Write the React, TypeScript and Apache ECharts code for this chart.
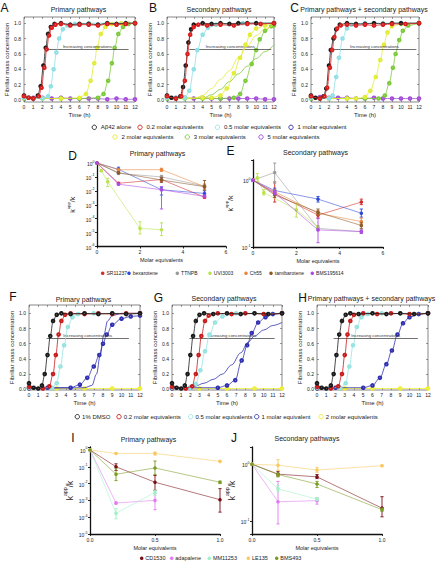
import React, { useEffect, useRef } from "react";
import * as echarts from "echarts";

const FONT = "'Liberation Sans', Arial, Helvetica, sans-serif";
const TXT = "#222";

// ---------- Kinetics panels (A, B, C, F, G, H) ----------
const KIN_Y_TICKS = [0, 0.2, 0.4, 0.6, 0.8, 1.0];
const ARROW_TEXT = "Increasing concentrations";

const ABC_NAMES = ["Aβ42 alone", "0.2 molar equivalents", "0.5 molar equivalents", "1 molar equivalent", "2 molar equivalents", "3 molar equivalents", "5 molar equivalents"];
const ABC_COLORS = ["#1a1a1a", "#d81e1e", "#8fe0e6", "#2b2ba3", "#e2ec34", "#7cc93a", "#a54fd8"];

const FGH_NAMES = ["1% DMSO", "0.2 molar equivalents", "0.5 molar equivalents", "1 molar equivalent", "2 molar equivalents"];
const FGH_COLORS = ["#1a1a1a", "#c81a1a", "#94e4e0", "#3030b0", "#eeee30"];

// A: primary pathways  [time (h), fibrillar mass concentration]
const A_ALONE = [[0, 0.06], [0.5, 0.03], [1, 0.02], [1.5, 0.06], [1.8, 0.18], [2.1, 0.45], [2.35, 0.68], [2.6, 0.86], [2.9, 0.95], [3.3, 0.99], [4, 1.0], [5, 0.98], [6, 0.99], [7, 0.99], [8, 0.98], [9, 1.0], [10, 0.99], [11, 1.0], [12, 1.0]];
const A_02 = [[0, 0.05], [0.5, 0.03], [1, 0.02], [1.6, 0.05], [1.9, 0.16], [2.2, 0.42], [2.45, 0.66], [2.7, 0.84], [3, 0.94], [3.4, 0.98], [4, 0.99], [5, 0.97], [6, 0.98], [7, 0.98], [8, 0.97], [9, 0.99], [10, 0.98], [11, 0.99], [12, 1.0]];
const A_05 = [[0, 0.03], [1, 0.02], [2, 0.02], [2.6, 0.05], [2.9, 0.18], [3.2, 0.4], [3.5, 0.62], [3.8, 0.8], [4.2, 0.92], [4.7, 0.97], [5.5, 0.99], [7, 1.0], [9, 1.0], [11, 1.0], [12, 1.0]];
const A_2 = [[0, 0.03], [2, 0.02], [4, 0.02], [6, 0.03], [6.7, 0.08], [7.2, 0.25], [7.6, 0.48], [7.9, 0.68], [8.3, 0.86], [8.8, 0.95], [9.5, 0.99], [10.5, 1.0], [12, 1.0]];
const A_3 = [[0, 0.02], [2, 0.02], [4, 0.02], [6, 0.02], [8, 0.03], [8.6, 0.08], [9.1, 0.25], [9.5, 0.48], [9.8, 0.68], [10.2, 0.86], [10.7, 0.95], [11.3, 0.99], [12, 1.0]];
const A_5 = [[0, 0.04], [1, 0.03], [2, 0.03], [3, 0.02], [4, 0.03], [5, 0.02], [6, 0.02], [7, 0.02], [8, 0.02], [9, 0.01], [10, 0.02], [11, 0.01], [12, 0.01]];

// B: secondary pathways
const B_ALONE = [[0, 0.06], [0.5, 0.03], [1, 0.02], [1.5, 0.05], [1.8, 0.17], [2.1, 0.45], [2.4, 0.75], [2.7, 0.92], [3, 0.98], [4, 1.0], [5, 0.99], [6, 1.0], [7, 0.99], [8, 1.0], [9, 1.0], [10, 1.0], [12, 1.0]];
const B_02 = [[0, 0.05], [1, 0.02], [1.6, 0.05], [2, 0.25], [2.3, 0.6], [2.6, 0.85], [3, 0.95], [3.5, 0.98], [4.5, 0.97], [6, 0.98], [7.5, 0.97], [9, 0.99], [10.5, 0.99], [12, 1.0]];
const B_05 = [[0, 0.03], [1, 0.03], [2, 0.03], [2.5, 0.12], [3, 0.4], [3.4, 0.65], [4, 0.85], [4.6, 0.94], [5.5, 0.98], [7, 0.99], [8.5, 1.0], [10, 1.0], [12, 1.0]];
const B_2 = [[0, 0.03], [2, 0.03], [4, 0.03], [5, 0.03], [6, 0.06], [6.7, 0.15], [7.5, 0.35], [8.2, 0.55], [8.8, 0.72], [9.3, 0.85], [10, 0.93], [11, 0.97], [12, 1.0]];
const B_2FIT = [[0, 0.02], [3, 0.02], [4, 0.06], [5, 0.15], [6, 0.27], [7, 0.38], [8, 0.55], [9, 0.7], [10, 0.84], [11, 0.93], [12, 0.98]];
const B_3 = [[0, 0.02], [2, 0.02], [4, 0.02], [6, 0.02], [7.5, 0.03], [8.2, 0.08], [8.8, 0.25], [9.5, 0.47], [10, 0.65], [10.4, 0.79], [11, 0.9], [11.7, 0.96], [12, 0.97]];
const B_3FIT = [[0, 0.02], [4, 0.02], [5, 0.07], [6, 0.14], [7, 0.24], [8, 0.34], [9, 0.44], [10, 0.54], [11, 0.63], [12, 0.72]];
const B_5 = [[0, 0.04], [1, 0.03], [2, 0.03], [3, 0.02], [4, 0.03], [5, 0.02], [6, 0.02], [7, 0.02], [8, 0.02], [9, 0.02], [10, 0.02], [11, 0.01], [12, 0.01]];

// C: primary + secondary pathways
const C_ALONE = [[0, 0.06], [0.5, 0.03], [1, 0.02], [1.4, 0.05], [1.7, 0.15], [2, 0.45], [2.2, 0.65], [2.5, 0.8], [2.8, 0.92], [3.2, 0.98], [4, 1.0], [5, 0.99], [6, 0.99], [7, 1.0], [8, 0.99], [9, 1.0], [10, 1.0], [12, 1.0]];
const C_02 = [[0, 0.05], [1, 0.02], [1.5, 0.05], [1.8, 0.16], [2.1, 0.42], [2.35, 0.65], [2.6, 0.82], [2.9, 0.93], [3.3, 0.97], [4, 0.98], [5, 0.97], [6, 0.98], [7, 0.97], [8, 0.98], [9, 0.99], [10.5, 0.99], [12, 1.0]];
const C_05 = [[0, 0.03], [1, 0.02], [2, 0.02], [2.4, 0.06], [2.8, 0.3], [3.1, 0.55], [3.5, 0.8], [4, 0.93], [4.5, 0.98], [6, 1.0], [8, 1.0], [10, 1.0], [12, 1.0]];
const C_2 = [[0, 0.03], [2, 0.02], [4, 0.02], [5, 0.02], [6, 0.04], [6.6, 0.12], [7.2, 0.3], [7.7, 0.52], [8.1, 0.72], [8.5, 0.88], [9, 0.96], [10, 0.99], [12, 1.0]];
const C_3 = [[0, 0.02], [2, 0.02], [4, 0.02], [6, 0.02], [7.5, 0.02], [8.2, 0.06], [8.7, 0.22], [9.1, 0.42], [9.4, 0.6], [9.8, 0.78], [10.2, 0.9], [10.8, 0.97], [12, 1.0]];
const C_5 = [[0, 0.05], [1, 0.04], [2, 0.03], [3, 0.03], [4, 0.03], [5, 0.02], [6, 0.02], [7, 0.03], [8, 0.02], [9, 0.02], [10, 0.02], [11, 0.02], [12, 0.02]];

// F: primary pathways
const F_DMSO = [[0, 0.08], [0.5, 0.02], [1, 0.01], [1.4, 0.05], [1.7, 0.2], [2, 0.45], [2.3, 0.7], [2.6, 0.9], [3, 0.98], [3.5, 1.0], [4.5, 0.99], [6, 1.0], [7.5, 0.99], [9, 1.0], [10.5, 0.99], [12, 1.0]];
const F_02 = [[0, 0.03], [1.5, 0.01], [2.2, 0.04], [2.6, 0.2], [2.9, 0.45], [3.2, 0.72], [3.5, 0.9], [3.9, 0.98], [4.5, 1.0], [6, 0.99], [7.5, 1.0], [9, 0.99], [10.5, 1.0], [12, 1.0]];
const F_05 = [[0, 0.02], [1.5, 0.02], [2.5, 0.02], [3, 0.08], [3.4, 0.3], [3.8, 0.58], [4.2, 0.82], [4.7, 0.95], [5.3, 0.99], [7, 1.0], [9, 1.0], [12, 1.0]];
const F_1 = [[0, 0.01], [2, 0.02], [4.5, 0.02], [5.5, 0.06], [6.3, 0.15], [7, 0.3], [7.6, 0.45], [8, 0.6], [8.4, 0.72], [9, 0.85], [10, 0.93], [11, 0.96], [12, 0.97]];
const F_1FIT = [[0, 0.01], [6, 0.02], [6.8, 0.05], [7.3, 0.2], [7.7, 0.45], [8.1, 0.72], [8.5, 0.9], [9, 0.97], [10, 1.0], [12, 1.0]];
const F_2 = [[0, 0.01], [3, 0.01], [6, 0.01], [9, 0.01], [12, 0.01]];

// G: secondary pathways
const G_DMSO = [[0, 0.08], [0.5, 0.02], [1, 0.01], [1.4, 0.05], [1.7, 0.2], [2, 0.45], [2.3, 0.7], [2.6, 0.9], [3, 0.98], [3.5, 1.0], [4.5, 0.99], [6, 1.0], [7.5, 0.99], [9, 1.0], [10.5, 0.99], [12, 1.0]];
const G_02 = [[0, 0.03], [1.5, 0.01], [2.2, 0.04], [2.6, 0.2], [2.9, 0.45], [3.2, 0.7], [3.6, 0.9], [4, 0.97], [5, 1.0], [6.5, 0.99], [8, 1.0], [10, 0.99], [12, 1.0]];
const G_05 = [[0, 0.02], [2, 0.02], [2.6, 0.07], [3.1, 0.25], [3.6, 0.5], [4.1, 0.72], [4.7, 0.88], [5.5, 0.96], [7, 1.0], [9, 1.0], [12, 1.0]];
const G_1 = [[0, 0.01], [2, 0.02], [5, 0.02], [6, 0.05], [6.9, 0.12], [7.6, 0.38], [8.2, 0.58], [8.7, 0.74], [9.4, 0.88], [10.2, 0.95], [11, 0.99], [12, 1.0]];
const G_1FIT = [[0, 0.01], [1.5, 0.02], [2.5, 0.04], [3.5, 0.08], [4.5, 0.13], [5.5, 0.2], [6.5, 0.32], [7.5, 0.48], [8.3, 0.62], [9, 0.7], [10, 0.78], [11, 0.84], [12, 0.88]];
const G_2 = [[0, 0.01], [3, 0.01], [6, 0.01], [9, 0.01], [12, 0.01]];

// H: primary + secondary pathways
const H_DMSO = [[0, 0.08], [0.5, 0.02], [1, 0.01], [1.5, 0.05], [1.8, 0.2], [2.1, 0.45], [2.4, 0.72], [2.7, 0.9], [3.1, 0.98], [3.6, 1.0], [4.5, 0.99], [6, 1.0], [7.5, 0.99], [9, 1.0], [10.5, 0.99], [12, 1.0]];
const H_02 = [[0, 0.03], [1.5, 0.01], [2.3, 0.04], [2.7, 0.2], [3, 0.45], [3.3, 0.72], [3.6, 0.9], [4, 0.98], [5, 1.0], [6.5, 0.99], [8, 1.0], [10, 0.99], [12, 1.0]];
const H_05 = [[0, 0.02], [2.5, 0.02], [3.1, 0.08], [3.5, 0.3], [3.9, 0.58], [4.3, 0.82], [4.8, 0.95], [5.5, 0.99], [7, 1.0], [9, 1.0], [12, 1.0]];
const H_1 = [[0, 0.01], [2, 0.02], [5, 0.02], [6, 0.05], [6.8, 0.15], [7.5, 0.33], [8.1, 0.51], [8.7, 0.72], [9.3, 0.87], [10, 0.95], [11, 0.99], [12, 1.0]];
const H_2 = [[0, 0.01], [3, 0.01], [6, 0.01], [9, 0.01], [12, 0.01]];

// arrows: [start time, end time, level]
const A_ARROW = [2.4, 11.3, 0.66];
const B_ARROW = [2.5, 11.7, 0.66];
const C_ARROW = [2.4, 11.7, 0.66];
const F_ARROW = [1.9, 10.8, 0.67];
const G_ARROW = [1.9, 11.2, 0.67];
const H_ARROW = [1.8, 10.9, 0.67];

// ---------- Dose panels (D, E, I, J): rows [molar eq, kapp/k, low, high] ----------
const DE_NAMES = ["SR11237", "bexarotene", "TTNPB", "UVI3003", "Ch55", "tamibarotene", "BMS195614"];
const DE_COLORS = ["#d42a2a", "#2f47d6", "#9a9a9a", "#b9e34b", "#e8843c", "#8a5a2a", "#b04ae6"];

const D_SR11237 = [[0, 1, 1, 1], [1, 0.035, 0.03, 0.04], [3, 0.065, 0.045, 0.09], [5, 0.0035, 0.003, 0.0045]];
const D_BEXAROTENE = [[0, 1, 1, 1], [1, 0.35, 0.22, 0.5], [3, 0.012, 0.005, 0.018], [5, 0.0065, 0.004, 0.01]];
const D_TTNPB = [[0, 1, 1, 1], [1, 0.18, 0.15, 0.22], [3, 0.1, 0.07, 0.13], [5, 0.022, 0.015, 0.03]];
const D_UVI3003 = [[0, 1, 1, 1], [0.2, 0.28, 0.25, 0.32], [0.5, 0.045, 0.02, 0.08], [2, 0.00002, 0.000008, 0.00006], [3, 0.000016, 0.000006, 0.00005]];
const D_CH55 = [[0, 1, 1, 1], [1, 0.33, 0.3, 0.36], [3, 0.33, 0.25, 0.42], [5, 0.02, 0.012, 0.03]];
const D_TAMIBAROTENE = [[0, 1, 1, 1], [1, 0.2, 0.17, 0.23], [3, 0.06, 0.04, 0.09], [5, 0.02, 0.011, 0.055]];
const D_BMS195614 = [[0, 1, 1, 1], [1, 0.03, 0.026, 0.035], [3, 0.012, 0.0005, 0.02], [5, 0.004, 0.0035, 0.005]];

const E_SR11237 = [[0, 1, 1, 1], [1, 0.63, 0.47, 0.94], [3, 0.3, 0.27, 0.33], [5, 0.47, 0.43, 0.52]];
const E_BEXAROTENE = [[0, 1, 1, 1], [1, 0.7, 0.64, 0.76], [3, 0.52, 0.47, 0.57], [5, 0.32, 0.28, 0.37]];
const E_TTNPB = [[0, 1, 1, 1], [1, 1.3, 0.9, 1.8], [3, 0.19, 0.18, 0.2], [5, 0.17, 0.16, 0.18]];
const E_UVI3003 = [[0, 1, 1, 1], [0.2, 1.08, 0.95, 1.25], [0.5, 0.65, 0.6, 0.72], [2, 0.36, 0.28, 0.45], [3, 0.2, 0.19, 0.21]];
const E_CH55 = [[0, 1, 1, 1], [1, 0.67, 0.62, 0.72], [3, 0.32, 0.3, 0.35], [5, 0.24, 0.22, 0.27]];
const E_TAMIBAROTENE = [[0, 1, 1, 1], [1, 0.6, 0.55, 0.66], [3, 0.33, 0.3, 0.37], [5, 0.21, 0.19, 0.23]];
const E_BMS195614 = [[0, 1, 1, 1], [1, 0.65, 0.6, 0.7], [3, 0.18, 0.116, 0.27], [5, 0.17, 0.16, 0.18]];

const IJ_NAMES = ["CD1530", "adapalene", "MM11253", "LE135", "BMS493"];
const IJ_COLORS = ["#7b0f16", "#e27af2", "#9ff2c6", "#f7c95e", "#7a9c22"];

const I_CD1530 = [[0, 1, 1, 1], [0.2, 0.1, 0.06, 0.15], [0.5, 0.012, 0.004, 0.03], [1, 0.0011, 0.0002, 0.005]];
const I_ADAPALENE = [[0, 1, 1, 1], [0.2, 0.0007, 0.0006, 0.0008], [0.5, 0.001, 0.00028, 0.0025]];
const I_MM11253 = [[0, 1, 1, 1], [0.2, 0.00017, 0.00008, 0.00032], [0.5, 0.003, 0.002, 0.004]];
const I_LE135 = [[0, 1, 1, 1], [0.2, 0.62, 0.6, 0.66], [0.5, 0.62, 0.5, 0.75], [1, 0.21, 0.2, 0.22]];
const I_BMS493 = [[0, 1, 1, 1], [0.2, 0.036, 0.015, 0.08], [0.5, 0.085, 0.035, 0.22], [1, 0.012, 0.01, 0.014]];

const J_CD1530 = [[0, 1, 1, 1], [0.2, 0.67, 0.62, 0.75], [0.5, 0.6, 0.56, 0.66], [1, 0.17, 0.12, 0.27]];
const J_ADAPALENE = [[0, 1, 1, 1], [0.2, 0.22, 0.09, 0.5], [0.5, 0.23, 0.2, 0.26]];
const J_MM11253 = [[0, 1, 1, 1], [0.2, 0.37, 0.33, 0.42], [0.5, 0.245, 0.23, 0.26]];
const J_LE135 = [[0, 1, 1, 1], [0.2, 0.96, 0.78, 1.2], [0.5, 0.79, 0.72, 0.88], [1, 0.94, 0.92, 0.96]];
const J_BMS493 = [[0, 1, 1, 1], [0.2, 0.66, 0.6, 0.7], [0.5, 0.45, 0.39, 0.5], [1, 0.16, 0.15, 0.17]];

// ---------- Text ----------
const PANEL_LETTERS = ["A", "B", "C", "D", "E", "F", "G", "H", "I", "J"];
const PANEL_TITLES = ["Primary pathways", "Secondary pathways", "Primary pathways + secondary pathways", "Primary pathways", "Secondary pathways", "Primary pathways", "Secondary pathways", "Primary pathways + secondary pathways", "Primary pathways", "Secondary pathways"];

// ---------- Layout (pixels) ----------
const LETTER_POS = [[4.5, 7.5], [153, 7.5], [294.5, 7.7], [72.5, 155.5], [230.5, 151], [13, 296.5], [158.5, 297.5], [302.5, 297.5], [73, 437.5], [234, 437.5]];
const TITLE_POS = [[78.5, 9.5], [219, 9.5], [364, 9.5], [157.5, 153.5], [315.5, 152.5], [83.5, 299], [224, 298.5], [371.5, 298.5], [148.5, 439], [307, 438]];
const ABC_LEG_POS = [[94.3, 127.3], [140, 127.3], [217.5, 127.3], [291, 127.3], [115, 137], [187.3, 137], [261, 137]];
const FGH_LEG_POS = [[77.3, 416.7], [119, 416.7], [190.7, 416.7], [256.7, 416.7], [321, 416.7]];
const DE_LEG_POS = [[102.7, 273.3], [129, 273.3], [177.3, 273.3], [210, 273.3], [246, 273.3], [271, 273.3], [312.3, 273.3]];
const IJ_LEG_POS = [[141.7, 558.3], [171.7, 558.3], [209.3, 558.3], [248.3, 558.3], [276.7, 558.3]];

function buildOption() {
  const grid: any[] = [];
  const xAxis: any[] = [];
  const yAxis: any[] = [];
  const series: any[] = [];
  const graphic: any[] = [];

  const tickStyle = { color: "#555", width: 0.6 };

  function kinetic(rect: any, ymin: number, ymax: number, curves: any[], arrow: number[]) {
    const gi = grid.length;
    grid.push({ ...rect, show: true, borderColor: "#555", borderWidth: 0.7, backgroundColor: "transparent", containLabel: false, outerBoundsMode: "none" });
    const xi = xAxis.length;
    xAxis.push({
      type: "value", gridIndex: gi, min: 0, max: 12, interval: 1, position: "bottom",
      name: "Time (h)", nameLocation: "middle", nameGap: 10,
      nameTextStyle: { fontSize: 6, color: TXT, fontFamily: FONT },
      axisLine: { show: false, onZero: false },
      axisTick: { show: true, inside: true, length: 2, lineStyle: tickStyle },
      axisLabel: { fontSize: 5, margin: 2, color: TXT, fontFamily: FONT },
      splitLine: { show: false },
    });
    xAxis.push({
      type: "value", gridIndex: gi, min: 0, max: 12, interval: 1, position: "top",
      axisLine: { show: false, onZero: false },
      axisTick: { show: true, inside: true, length: 2, lineStyle: tickStyle },
      axisLabel: { show: false }, splitLine: { show: false },
    });
    const yi = yAxis.length;
    yAxis.push({
      type: "value", gridIndex: gi, min: ymin, max: ymax, position: "left",
      name: "Fibrillar mass concentration", nameLocation: "middle", nameGap: 13.5,
      nameTextStyle: { fontSize: 6, color: TXT, fontFamily: FONT },
      axisLine: { show: false, onZero: false },
      axisTick: { show: true, inside: true, length: 2, lineStyle: tickStyle, customValues: KIN_Y_TICKS },
      axisLabel: { fontSize: 5, margin: 3, color: TXT, fontFamily: FONT, customValues: KIN_Y_TICKS, formatter: (v: number) => v.toFixed(1) },
      splitLine: { show: false },
    });
    yAxis.push({
      type: "value", gridIndex: gi, min: ymin, max: ymax, position: "right",
      axisLine: { show: false, onZero: false },
      axisTick: { show: true, inside: true, length: 2, lineStyle: tickStyle, customValues: KIN_Y_TICKS },
      axisLabel: { show: false, customValues: KIN_Y_TICKS }, splitLine: { show: false },
    });
    curves.forEach((c: any, k: number) => {
      series.push({
        type: "line", xAxisIndex: xi, yAxisIndex: yi, data: c.data,
        smooth: 0.35, smoothMonotone: "x",
        showSymbol: c.marks, symbol: "emptyCircle", symbolSize: 2.6,
        itemStyle: { color: c.color, borderWidth: 0.6 },
        lineStyle: { color: c.color, width: c.marks ? 0.8 : 0.8 },
        z: 2 + k, silent: true,
        markLine: k === curves.length - 1 ? {
          silent: true, symbol: ["none", "arrow"], symbolSize: [0, 4.5],
          lineStyle: { type: "solid", color: "#333", width: 0.7 },
          label: { show: true, position: "insideMiddleTop", formatter: ARROW_TEXT, fontSize: 4.3, color: "#333", fontFamily: FONT, distance: 1 },
          data: [[{ coord: [arrow[0], arrow[2]] }, { coord: [arrow[1], arrow[2]] }]],
        } : undefined,
      });
    });
  }

  const logLabel = (v: number) => {
    const e = Math.log10(v);
    const r = Math.round(e);
    if (Math.abs(e - r) > 1e-6) return "";
    return "{n|10}{s|" + r + "}";
  };
  const logRich = {
    n: { fontSize: 5, lineHeight: 7, verticalAlign: "bottom", color: TXT, fontFamily: FONT },
    s: { fontSize: 3.6, lineHeight: 3.6, verticalAlign: "top", color: TXT, fontFamily: FONT },
  };

  function dose(rect: any, xmax: number, xint: number, xdec: number, ymin: number, ymax: number, nameGap: number, nameSize: number, sets: any[], colors: string[]) {
    const gi = grid.length;
    grid.push({ ...rect, show: false, containLabel: false, outerBoundsMode: "none" });
    const xi = xAxis.length;
    xAxis.push({
      type: "value", gridIndex: gi, min: 0, max: xmax, interval: xint, position: "bottom",
      name: "Molar equivalents", nameLocation: "middle", nameGap: 10.5,
      nameTextStyle: { fontSize: 5.5, color: TXT, fontFamily: FONT },
      axisLine: { show: true, onZero: false, lineStyle: { color: "#111", width: 1.3 } },
      axisTick: { show: true, length: 2, lineStyle: { color: "#111", width: 0.9 } },
      axisLabel: { fontSize: 5, margin: 3, color: TXT, fontFamily: FONT, formatter: (v: number) => v.toFixed(xdec) },
      splitLine: { show: false },
    });
    const yi = yAxis.length;
    yAxis.push({
      type: "log", logBase: 10, gridIndex: gi, min: ymin, max: ymax, position: "left",
      name: "{a|k}{b|app}{a|/k}", nameLocation: "middle", nameGap, nameRotate: 90,
      nameTextStyle: {
        rich: {
          a: { fontSize: nameSize, lineHeight: nameSize * 1.4, verticalAlign: "bottom", color: TXT, fontFamily: FONT },
          b: { fontSize: nameSize * 0.62, lineHeight: nameSize * 0.62, verticalAlign: "top", color: TXT, fontFamily: FONT },
        },
      },
      axisLine: { show: true, onZero: false, lineStyle: { color: "#111", width: 1.3 } },
      axisTick: { show: true, length: 2, lineStyle: { color: "#111", width: 0.9 } },
      axisLabel: { margin: 2.5, formatter: logLabel, rich: logRich, fontSize: 5, color: TXT },
      splitLine: { show: false }, minorTick: { show: false },
    });
    sets.forEach((rows: number[][], k: number) => {
      const color = colors[k];
      series.push({
        type: "line", xAxisIndex: xi, yAxisIndex: yi, clip: false, silent: true,
        data: rows.map((r) => [r[0], r[1]]),
        symbol: "circle", symbolSize: 3.6, showSymbol: true,
        itemStyle: { color }, lineStyle: { color, width: 0.7, opacity: 0.8 }, z: 3 + k,
      });
      series.push({
        type: "custom", xAxisIndex: xi, yAxisIndex: yi, clip: false, silent: true, z: 3 + k,
        data: rows, encode: { x: 0, y: [2, 3] },
        renderItem: (_p: any, api: any) => {
          const x = api.value(0), lo = api.value(2), hi = api.value(3);
          if (!(hi > lo)) return { type: "group", children: [] };
          const a = api.coord([x, lo]);
          const b = api.coord([x, hi]);
          const st = { stroke: color, lineWidth: 0.9 };
          const w = 1.6;
          return {
            type: "group", children: [
              { type: "line", shape: { x1: a[0], y1: a[1], x2: b[0], y2: b[1] }, style: st },
              { type: "line", shape: { x1: a[0] - w, y1: a[1], x2: a[0] + w, y2: a[1] }, style: st },
              { type: "line", shape: { x1: b[0] - w, y1: b[1], x2: b[0] + w, y2: b[1] }, style: st },
            ],
          };
        },
      });
    });
  }

  const C = ABC_COLORS;
  kinetic({ left: 24, top: 17, width: 111, height: 85 }, -0.025, 1.08, [
    { data: A_5, color: C[6], marks: true }, { data: A_3, color: C[5], marks: true }, { data: A_2, color: C[4], marks: true },
    { data: A_05, color: C[2], marks: true }, { data: A_ALONE, color: C[0], marks: true }, { data: A_02, color: C[1], marks: true },
  ], A_ARROW);
  kinetic({ left: 167, top: 17, width: 107, height: 85 }, -0.025, 1.08, [
    { data: B_5, color: C[6], marks: true }, { data: B_3FIT, color: C[5], marks: false }, { data: B_3, color: C[5], marks: true },
    { data: B_2FIT, color: C[4], marks: false }, { data: B_2, color: C[4], marks: true },
    { data: B_05, color: C[2], marks: true }, { data: B_ALONE, color: C[0], marks: true }, { data: B_02, color: C[1], marks: true },
  ], B_ARROW);
  kinetic({ left: 311, top: 17, width: 108, height: 85 }, -0.025, 1.08, [
    { data: C_5, color: C[6], marks: true }, { data: C_3, color: C[5], marks: true }, { data: C_2, color: C[4], marks: true },
    { data: C_05, color: C[2], marks: true }, { data: C_ALONE, color: C[0], marks: true }, { data: C_02, color: C[1], marks: true },
  ], C_ARROW);

  const F = FGH_COLORS;
  kinetic({ left: 29, top: 305, width: 111, height: 85 }, -0.01, 1.11, [
    { data: F_2, color: F[4], marks: true }, { data: F_1FIT, color: F[3], marks: false }, { data: F_1, color: F[3], marks: true },
    { data: F_05, color: F[2], marks: true }, { data: F_02, color: F[1], marks: true }, { data: F_DMSO, color: F[0], marks: true },
  ], F_ARROW);
  kinetic({ left: 172, top: 305, width: 110, height: 85 }, -0.01, 1.11, [
    { data: G_2, color: F[4], marks: true }, { data: G_1FIT, color: F[3], marks: false }, { data: G_1, color: F[3], marks: true },
    { data: G_05, color: F[2], marks: true }, { data: G_02, color: F[1], marks: true }, { data: G_DMSO, color: F[0], marks: true },
  ], G_ARROW);
  kinetic({ left: 317, top: 305, width: 111, height: 85 }, -0.01, 1.11, [
    { data: H_2, color: F[4], marks: true }, { data: H_1, color: F[3], marks: true },
    { data: H_05, color: F[2], marks: true }, { data: H_02, color: F[1], marks: true }, { data: H_DMSO, color: F[0], marks: true },
  ], H_ARROW);

  dose({ left: 97, top: 163, width: 129, height: 83.5 }, 6, 2, 0, 0.000001, 1, 21, 7,
    [D_SR11237, D_BEXAROTENE, D_TTNPB, D_UVI3003, D_CH55, D_TAMIBAROTENE, D_BMS195614], DE_COLORS);
  dose({ left: 253, top: 160, width: 130, height: 87 }, 6, 2, 0, 0.1, 2, 19, 7,
    [E_SR11237, E_BEXAROTENE, E_TTNPB, E_UVI3003, E_CH55, E_TAMIBAROTENE, E_BMS195614], DE_COLORS);
  dose({ left: 90, top: 447, width: 130, height: 87 }, 1, 0.5, 1, 0.00001, 1.5, 14, 8.5,
    [I_CD1530, I_ADAPALENE, I_MM11253, I_LE135, I_BMS493], IJ_COLORS);
  dose({ left: 252, top: 447, width: 130, height: 87 }, 1, 0.5, 1, 0.06, 2, 14, 8.5,
    [J_CD1530, J_ADAPALENE, J_MM11253, J_LE135, J_BMS493], IJ_COLORS);

  PANEL_LETTERS.forEach((t, i) => {
    graphic.push({ type: "text", x: LETTER_POS[i][0], y: LETTER_POS[i][1], silent: true,
      style: { text: t, fontSize: 12, fontFamily: FONT, fill: "#111", align: "center", verticalAlign: "middle" } });
  });
  PANEL_TITLES.forEach((t, i) => {
    graphic.push({ type: "text", x: TITLE_POS[i][0], y: TITLE_POS[i][1], silent: true,
      style: { text: t, fontSize: 7, fontFamily: FONT, fill: TXT, align: "center", verticalAlign: "middle" } });
  });

  const ringLegend = (names: string[], colors: string[], pos: number[][], size: number, off: number) => {
    names.forEach((n, i) => {
      graphic.push({ type: "circle", silent: true, shape: { cx: pos[i][0], cy: pos[i][1], r: 2.2 }, style: { fill: "none", stroke: colors[i], lineWidth: 0.9 } });
      graphic.push({ type: "text", silent: true, x: pos[i][0] + off, y: pos[i][1],
        style: { text: n, fontSize: size, fontFamily: FONT, fill: TXT, align: "left", verticalAlign: "middle" } });
    });
  };
  const dotLegend = (names: string[], colors: string[], pos: number[][], size: number, off: number) => {
    names.forEach((n, i) => {
      graphic.push({ type: "circle", silent: true, shape: { cx: pos[i][0], cy: pos[i][1], r: 1.8 }, style: { fill: colors[i] } });
      graphic.push({ type: "text", silent: true, x: pos[i][0] + off, y: pos[i][1],
        style: { text: n, fontSize: size, fontFamily: FONT, fill: TXT, align: "left", verticalAlign: "middle" } });
    });
  };
  ringLegend(ABC_NAMES, ABC_COLORS, ABC_LEG_POS, 6, 6.5);
  ringLegend(FGH_NAMES, FGH_COLORS, FGH_LEG_POS, 6, 4.8);
  dotLegend(DE_NAMES, DE_COLORS, DE_LEG_POS, 5, 3.8);
  dotLegend(IJ_NAMES, IJ_COLORS, IJ_LEG_POS, 5.5, 3.6);

  return {
    animation: false,
    backgroundColor: "#ffffff",
    textStyle: { fontFamily: FONT },
    grid, xAxis, yAxis, series, graphic,
  };
}

export default function App() {
  const ref = useRef<HTMLDivElement>(null);
  useEffect(() => {
    if (!ref.current) return;
    const chart = echarts.init(ref.current, undefined, { renderer: "svg" });
    chart.setOption(buildOption() as any);
    return () => chart.dispose();
  }, []);
  return (
    <div
      ref={ref}
      style={{ position: "fixed", left: 0, top: 0, width: 437, height: 564, background: "#fff" }}
    />
  );
}
